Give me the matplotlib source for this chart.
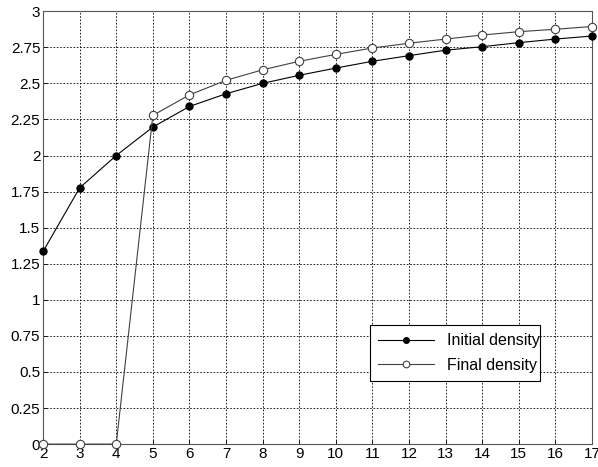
import matplotlib
matplotlib.use('Agg')
import matplotlib.pyplot as plt

# data
nodes = list(range(2, 18))
initialDensity = [1.335, 1.776, 2.0, 2.197, 2.34, 2.428, 2.5, 2.556, 2.606,
                  2.653, 2.692, 2.73, 2.754, 2.782, 2.807, 2.828]
finalDensity = [0, 0, 0, 2.278, 2.42, 2.521, 2.594, 2.653, 2.701,
                2.745, 2.778, 2.807, 2.835, 2.858, 2.875, 2.894]

yTicks = [0, 0.25, 0.5, 0.75, 1, 1.25, 1.5, 1.75, 2, 2.25, 2.5, 2.75, 3]
yTickLabels = ['0', '0.25', '0.5', '0.75', '1', '1.25', '1.5', '1.75',
               '2', '2.25', '2.5', '2.75', '3']

plt.rcParams['font.family'] = ['Liberation Sans', 'DejaVu Sans']

fig = plt.figure(figsize=(5.98, 4.67), dpi=100)
ax = fig.add_axes([0.072, 0.049, 0.918, 0.927])

ax.plot(nodes, initialDensity, '-', color='black', lw=0.8,
        marker='o', ms=5, mfc='black', mec='black', label='Initial density',
        clip_on=False, zorder=3)
ax.plot(nodes, finalDensity, '-', color='#404040', lw=0.8,
        marker='o', ms=6, mfc='white', mec='#404040', mew=0.8,
        label='Final density', clip_on=False, zorder=3)

ax.set_xlim(2, 17)
ax.set_ylim(0, 3)
ax.set_xticks(nodes)
ax.set_yticks(yTicks)
ax.set_yticklabels(yTickLabels)
ax.tick_params(direction='in', length=3, labelsize=11, width=0.6, pad=2)

ax.grid(True, color='black', linestyle=(0, (2, 2)), lw=0.6)
for s in ax.spines.values():
    s.set_linewidth(0.8)
    s.set_color('#555555')

leg = ax.legend(loc='lower left', bbox_to_anchor=(0.581, 0.128, 0.338, 0.133),
                mode='expand', fontsize=11.5, fancybox=False, framealpha=1,
                edgecolor='black', borderpad=0.5, handlelength=3.5,
                labelspacing=0.6, markerscale=0.8)
leg.get_frame().set_linewidth(0.8)

fig.savefig('out.png', dpi=100)
